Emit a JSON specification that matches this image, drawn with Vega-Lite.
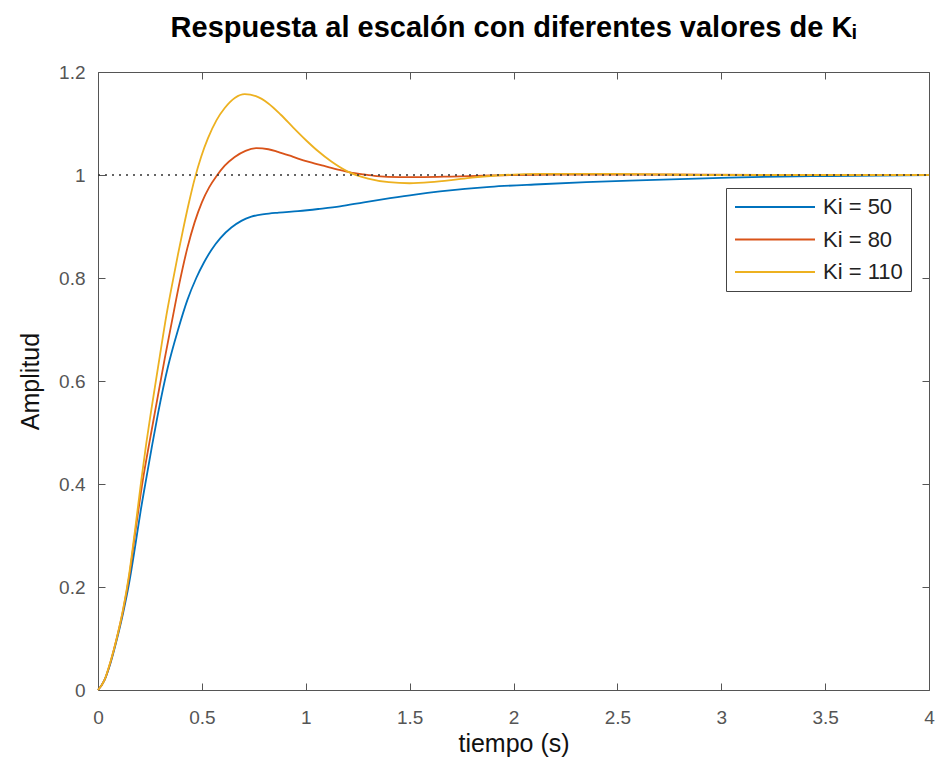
{
  "$schema": "https://vega.github.io/schema/vega-lite/v6.json",
  "width": 831,
  "height": 618,
  "autosize": {"type": "none"},
  "padding": {"left": 98, "top": 72, "right": 10, "bottom": 75},
  "background": "white",
  "config": {"view": {"stroke": null}, "font": "Liberation Sans"},
  "title": {
    "text": "Respuesta al escalón con diferentes valores de Kᵢ",
    "fontSize": 29,
    "fontWeight": "bold",
    "font": "Liberation Sans",
    "color": "#000000",
    "anchor": "middle",
    "frame": "group",
    "offset": 20
  },
  "datasets": {
    "curves": [
      {"serie": "Ki = 50", "t": 0, "amp": 0},
      {"serie": "Ki = 50", "t": 0.03, "amp": 0.018},
      {"serie": "Ki = 50", "t": 0.06, "amp": 0.052},
      {"serie": "Ki = 50", "t": 0.09, "amp": 0.097},
      {"serie": "Ki = 50", "t": 0.12, "amp": 0.148},
      {"serie": "Ki = 50", "t": 0.15, "amp": 0.208},
      {"serie": "Ki = 50", "t": 0.18, "amp": 0.282},
      {"serie": "Ki = 50", "t": 0.205, "amp": 0.347},
      {"serie": "Ki = 50", "t": 0.232, "amp": 0.41},
      {"serie": "Ki = 50", "t": 0.26, "amp": 0.474},
      {"serie": "Ki = 50", "t": 0.289, "amp": 0.537},
      {"serie": "Ki = 50", "t": 0.337, "amp": 0.628},
      {"serie": "Ki = 50", "t": 0.385, "amp": 0.699},
      {"serie": "Ki = 50", "t": 0.43, "amp": 0.757},
      {"serie": "Ki = 50", "t": 0.473, "amp": 0.8},
      {"serie": "Ki = 50", "t": 0.51, "amp": 0.83},
      {"serie": "Ki = 50", "t": 0.545, "amp": 0.854},
      {"serie": "Ki = 50", "t": 0.59, "amp": 0.878},
      {"serie": "Ki = 50", "t": 0.642, "amp": 0.898},
      {"serie": "Ki = 50", "t": 0.69, "amp": 0.911},
      {"serie": "Ki = 50", "t": 0.738, "amp": 0.919},
      {"serie": "Ki = 50", "t": 0.8, "amp": 0.924},
      {"serie": "Ki = 50", "t": 0.87, "amp": 0.927},
      {"serie": "Ki = 50", "t": 0.963, "amp": 0.93},
      {"serie": "Ki = 50", "t": 1.06, "amp": 0.934},
      {"serie": "Ki = 50", "t": 1.165, "amp": 0.939},
      {"serie": "Ki = 50", "t": 1.28, "amp": 0.947},
      {"serie": "Ki = 50", "t": 1.406, "amp": 0.955},
      {"serie": "Ki = 50", "t": 1.526, "amp": 0.962},
      {"serie": "Ki = 50", "t": 1.646, "amp": 0.968},
      {"serie": "Ki = 50", "t": 1.766, "amp": 0.973},
      {"serie": "Ki = 50", "t": 1.887, "amp": 0.977},
      {"serie": "Ki = 50", "t": 2.128, "amp": 0.982},
      {"serie": "Ki = 50", "t": 2.35, "amp": 0.986},
      {"serie": "Ki = 50", "t": 2.56, "amp": 0.989},
      {"serie": "Ki = 50", "t": 2.8, "amp": 0.992},
      {"serie": "Ki = 50", "t": 3.04, "amp": 0.995},
      {"serie": "Ki = 50", "t": 3.28, "amp": 0.997},
      {"serie": "Ki = 50", "t": 3.52, "amp": 0.998},
      {"serie": "Ki = 50", "t": 3.76, "amp": 0.999},
      {"serie": "Ki = 50", "t": 4.0, "amp": 1.0},

      {"serie": "Ki = 80", "t": 0, "amp": 0},
      {"serie": "Ki = 80", "t": 0.03, "amp": 0.018},
      {"serie": "Ki = 80", "t": 0.06, "amp": 0.054},
      {"serie": "Ki = 80", "t": 0.09, "amp": 0.1},
      {"serie": "Ki = 80", "t": 0.12, "amp": 0.153},
      {"serie": "Ki = 80", "t": 0.15, "amp": 0.22},
      {"serie": "Ki = 80", "t": 0.18, "amp": 0.308},
      {"serie": "Ki = 80", "t": 0.216, "amp": 0.408},
      {"serie": "Ki = 80", "t": 0.245, "amp": 0.475},
      {"serie": "Ki = 80", "t": 0.273, "amp": 0.537},
      {"serie": "Ki = 80", "t": 0.321, "amp": 0.643},
      {"serie": "Ki = 80", "t": 0.353, "amp": 0.71},
      {"serie": "Ki = 80", "t": 0.393, "amp": 0.792},
      {"serie": "Ki = 80", "t": 0.43, "amp": 0.858},
      {"serie": "Ki = 80", "t": 0.465, "amp": 0.908},
      {"serie": "Ki = 80", "t": 0.5, "amp": 0.947},
      {"serie": "Ki = 80", "t": 0.535, "amp": 0.976},
      {"serie": "Ki = 80", "t": 0.569, "amp": 0.997},
      {"serie": "Ki = 80", "t": 0.61, "amp": 1.018},
      {"serie": "Ki = 80", "t": 0.658, "amp": 1.035},
      {"serie": "Ki = 80", "t": 0.71, "amp": 1.047},
      {"serie": "Ki = 80", "t": 0.762, "amp": 1.052},
      {"serie": "Ki = 80", "t": 0.82, "amp": 1.05},
      {"serie": "Ki = 80", "t": 0.866, "amp": 1.045},
      {"serie": "Ki = 80", "t": 0.92, "amp": 1.038},
      {"serie": "Ki = 80", "t": 0.963, "amp": 1.032},
      {"serie": "Ki = 80", "t": 1.02, "amp": 1.025},
      {"serie": "Ki = 80", "t": 1.084, "amp": 1.018},
      {"serie": "Ki = 80", "t": 1.15, "amp": 1.011},
      {"serie": "Ki = 80", "t": 1.213, "amp": 1.005},
      {"serie": "Ki = 80", "t": 1.28, "amp": 1.001},
      {"serie": "Ki = 80", "t": 1.341, "amp": 0.998},
      {"serie": "Ki = 80", "t": 1.45, "amp": 0.996},
      {"serie": "Ki = 80", "t": 1.566, "amp": 0.996},
      {"serie": "Ki = 80", "t": 1.7, "amp": 0.997},
      {"serie": "Ki = 80", "t": 1.887, "amp": 0.999},
      {"serie": "Ki = 80", "t": 2.2, "amp": 1.001},
      {"serie": "Ki = 80", "t": 2.6, "amp": 1.001},
      {"serie": "Ki = 80", "t": 3.2, "amp": 1.0},
      {"serie": "Ki = 80", "t": 4.0, "amp": 1.0},

      {"serie": "Ki = 110", "t": 0, "amp": 0},
      {"serie": "Ki = 110", "t": 0.03, "amp": 0.018},
      {"serie": "Ki = 110", "t": 0.06, "amp": 0.055},
      {"serie": "Ki = 110", "t": 0.09, "amp": 0.1},
      {"serie": "Ki = 110", "t": 0.12, "amp": 0.155},
      {"serie": "Ki = 110", "t": 0.15, "amp": 0.225},
      {"serie": "Ki = 110", "t": 0.18, "amp": 0.316},
      {"serie": "Ki = 110", "t": 0.208, "amp": 0.406},
      {"serie": "Ki = 110", "t": 0.232, "amp": 0.478},
      {"serie": "Ki = 110", "t": 0.257, "amp": 0.545},
      {"serie": "Ki = 110", "t": 0.297, "amp": 0.647},
      {"serie": "Ki = 110", "t": 0.329, "amp": 0.727},
      {"serie": "Ki = 110", "t": 0.361, "amp": 0.796},
      {"serie": "Ki = 110", "t": 0.385, "amp": 0.846},
      {"serie": "Ki = 110", "t": 0.409, "amp": 0.893},
      {"serie": "Ki = 110", "t": 0.437, "amp": 0.945},
      {"serie": "Ki = 110", "t": 0.465, "amp": 0.992},
      {"serie": "Ki = 110", "t": 0.497, "amp": 1.036},
      {"serie": "Ki = 110", "t": 0.529, "amp": 1.071},
      {"serie": "Ki = 110", "t": 0.57, "amp": 1.106},
      {"serie": "Ki = 110", "t": 0.61, "amp": 1.13},
      {"serie": "Ki = 110", "t": 0.66, "amp": 1.15},
      {"serie": "Ki = 110", "t": 0.706, "amp": 1.157},
      {"serie": "Ki = 110", "t": 0.76, "amp": 1.153},
      {"serie": "Ki = 110", "t": 0.82, "amp": 1.139},
      {"serie": "Ki = 110", "t": 0.88, "amp": 1.117},
      {"serie": "Ki = 110", "t": 0.94, "amp": 1.092},
      {"serie": "Ki = 110", "t": 1.0, "amp": 1.068},
      {"serie": "Ki = 110", "t": 1.06, "amp": 1.046},
      {"serie": "Ki = 110", "t": 1.12, "amp": 1.027},
      {"serie": "Ki = 110", "t": 1.2, "amp": 1.007},
      {"serie": "Ki = 110", "t": 1.3, "amp": 0.993},
      {"serie": "Ki = 110", "t": 1.4, "amp": 0.986},
      {"serie": "Ki = 110", "t": 1.5, "amp": 0.984},
      {"serie": "Ki = 110", "t": 1.6, "amp": 0.986},
      {"serie": "Ki = 110", "t": 1.7, "amp": 0.99},
      {"serie": "Ki = 110", "t": 1.8, "amp": 0.995},
      {"serie": "Ki = 110", "t": 1.92, "amp": 0.999},
      {"serie": "Ki = 110", "t": 2.13, "amp": 1.002},
      {"serie": "Ki = 110", "t": 2.5, "amp": 1.002},
      {"serie": "Ki = 110", "t": 3.0, "amp": 1.0},
      {"serie": "Ki = 110", "t": 4.0, "amp": 1.0}
    ],
    "ref": [{"level": 1, "start": 0, "end": 4}]
  },
  "layer": [
    {
      "data": {"name": "curves"},
      "mark": {"type": "line", "interpolate": "monotone", "strokeWidth": 1.8},
      "encoding": {
        "x": {
          "field": "t", "type": "quantitative",
          "scale": {"domain": [0, 4], "nice": false, "zero": false},
          "axis": {
            "orient": "bottom",
            "values": [0, 0.5, 1, 1.5, 2, 2.5, 3, 3.5, 4],
            "format": "~g",
            "grid": false,
            "ticks": false,
            "labelPadding": 18,
            "labelFlush": false,
            "labelFontSize": 19,
            "labelColor": "#555555",
            "domainColor": "#555555",
            "title": "tiempo (s)",
            "titleFontSize": 25,
            "titleFontWeight": "normal",
            "titleColor": "#111111",
            "titlePadding": 4
          }
        },
        "y": {
          "field": "amp", "type": "quantitative",
          "scale": {"domain": [0, 1.2], "nice": false, "zero": false},
          "axis": {
            "orient": "left",
            "values": [0, 0.2, 0.4, 0.6, 0.8, 1, 1.2],
            "format": "~g",
            "grid": false,
            "ticks": false,
            "labelPadding": 13,
            "labelFlush": false,
            "labelFontSize": 19,
            "labelColor": "#555555",
            "domainColor": "#555555",
            "title": "Amplitud",
            "titleFontSize": 25,
            "titleFontWeight": "normal",
            "titleColor": "#111111",
            "titlePadding": 15
          }
        },
        "color": {
          "field": "serie", "type": "nominal",
          "scale": {"domain": ["Ki = 50", "Ki = 80", "Ki = 110"], "range": ["#0072BD", "#D95319", "#EDB120"]},
          "legend": {
            "orient": "none",
            "legendX": 628,
            "legendY": 116,
            "title": null,
            "symbolType": "M-1,0H7",
            "symbolSize": 400,
            "symbolStrokeWidth": 2,
            "labelFontSize": 22,
            "labelFont": "Liberation Sans",
            "labelColor": "#222222",
            "labelOffset": 67,
            "labelLimit": 300,
            "padding": 8,
            "rowPadding": 10.5,
            "strokeColor": "#444444",
            "fillColor": "white"
          }
        }
      }
    },
    {
      "data": {"name": "ref"},
      "mark": {"type": "rule", "strokeDash": [2, 5], "color": "#333333", "strokeWidth": 1.3},
      "encoding": {
        "x": {
          "field": "start", "type": "quantitative",
          "scale": {"domain": [0, 4], "nice": false, "zero": false},
          "axis": {
            "orient": "top",
            "offset": -618,
            "values": [0, 0.5, 1, 1.5, 2, 2.5, 3, 3.5, 4],
            "labels": false,
            "domain": false,
            "title": null,
            "grid": false,
            "ticks": true,
            "tickSize": 7,
            "tickWidth": 1,
            "tickColor": "#555555"
          }
        },
        "x2": {"field": "end"},
        "y": {
          "field": "level", "type": "quantitative",
          "scale": {"domain": [0, 1.2], "nice": false, "zero": false},
          "axis": {
            "orient": "right",
            "offset": -831,
            "values": [0, 0.2, 0.4, 0.6, 0.8, 1, 1.2],
            "labels": false,
            "domain": false,
            "title": null,
            "grid": false,
            "ticks": true,
            "tickSize": 7,
            "tickWidth": 1,
            "tickColor": "#555555"
          }
        }
      }
    },
    {
      "data": {"name": "ref"},
      "mark": {"type": "rule", "strokeOpacity": 0},
      "encoding": {
        "x": {
          "field": "start", "type": "quantitative",
          "scale": {"domain": [0, 4], "nice": false, "zero": false},
          "axis": {
            "orient": "bottom",
            "offset": -618,
            "values": [0, 0.5, 1, 1.5, 2, 2.5, 3, 3.5, 4],
            "labels": false,
            "title": null,
            "grid": false,
            "ticks": true,
            "tickSize": 7,
            "tickWidth": 1,
            "tickColor": "#555555",
            "domainColor": "#555555"
          }
        },
        "x2": {"field": "end"},
        "y": {
          "field": "level", "type": "quantitative",
          "scale": {"domain": [0, 1.2], "nice": false, "zero": false},
          "axis": {
            "orient": "left",
            "offset": -831,
            "values": [0, 0.2, 0.4, 0.6, 0.8, 1, 1.2],
            "labels": false,
            "title": null,
            "grid": false,
            "ticks": true,
            "tickSize": 7,
            "tickWidth": 1,
            "tickColor": "#555555",
            "domainColor": "#555555"
          }
        }
      }
    }
  ],
  "resolve": {"axis": {"x": "independent", "y": "independent"}}
}
